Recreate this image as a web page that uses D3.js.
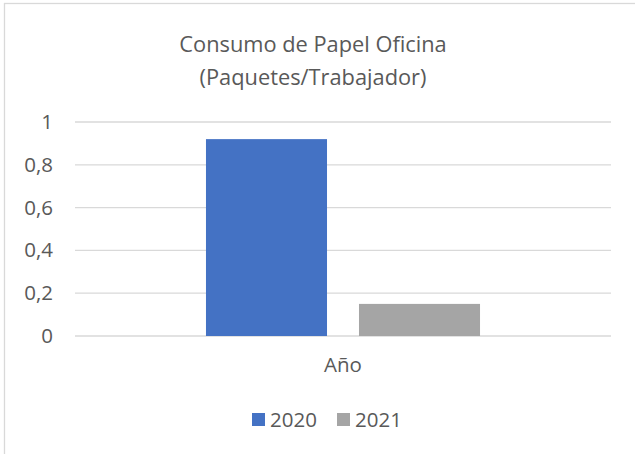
<!DOCTYPE html>
<html>
<head>
<meta charset="utf-8">
<script src="https://cdn.jsdelivr.net/npm/d3@7"></script>
<style>
  body { margin: 0; background: #fff; }
  svg { display: block; }
  text { font-family: "Open Sans", sans-serif; fill: #595959; }
</style>
</head>
<body>
<svg id="chart"></svg>
<script>
const categories = ["Año"];
const series = ["2020", "2021"];
const values = [0.92, 0.15];
const colors = ["#4472C4", "#A5A5A5"];
const yTicks = [0, 0.2, 0.4, 0.6, 0.8, 1];
const title = ["Consumo de Papel Oficina", "(Paquetes/Trabajador)"];

const width = 635, height = 454;
const margin = { top: 122, right: 24, bottom: 118, left: 75 };
const labelSize = "20.5px";

const svg = d3.select("#chart")
    .attr("width", width)
    .attr("height", height);

// chart area border (runs off the right and bottom edges)
svg.append("rect")
    .attr("x", 4.5).attr("y", 3.5)
    .attr("width", width + 10).attr("height", height + 10)
    .attr("fill", "none")
    .attr("stroke", "#d9d9d9")
    .attr("stroke-width", 1.3);

const locale = d3.formatLocale({ decimal: ",", thousands: ".", grouping: [3], currency: ["", "€"] });
const fmt = locale.format(".1~f");

const x0 = d3.scaleBand()
    .domain(categories)
    .range([margin.left, width - margin.right]);

const x1 = d3.scaleBand()
    .domain(series)
    .range([0, x0.bandwidth()])
    .paddingInner(0.209)
    .paddingOuter(0.856);

const y = d3.scaleLinear()
    .domain([0, 1])
    .range([height - margin.bottom, margin.top]);

// gridlines
svg.append("g")
    .selectAll("line")
    .data(yTicks)
    .join("line")
    .attr("x1", margin.left)
    .attr("x2", width - margin.right)
    .attr("y1", d => y(d))
    .attr("y2", d => y(d))
    .attr("stroke", "#d9d9d9")
    .attr("stroke-width", 1.3);

// y axis labels
const yAxis = svg.append("g")
    .attr("transform", `translate(${margin.left}, 0)`)
    .call(d3.axisLeft(y).tickValues(yTicks).tickFormat(fmt).tickSize(0).tickPadding(22));
yAxis.select(".domain").remove();
yAxis.selectAll("text")
    .style("font-family", "'Open Sans', sans-serif")
    .style("font-size", labelSize)
    .attr("fill", "#595959");

// bars
svg.append("g")
    .selectAll("g")
    .data(categories)
    .join("g")
    .attr("transform", d => `translate(${x0(d)}, 0)`)
    .selectAll("rect")
    .data(() => series.map((s, i) => ({ s, v: values[i], c: colors[i] })))
    .join("rect")
    .attr("x", d => x1(d.s))
    .attr("width", x1.bandwidth())
    .attr("y", d => y(d.v))
    .attr("height", d => y(0) - y(d.v))
    .attr("fill", d => d.c);

// x axis labels
const xAxis = svg.append("g")
    .attr("transform", `translate(0, ${y(0)})`)
    .call(d3.axisBottom(x0).tickSize(0).tickPadding(21));
xAxis.select(".domain").remove();
xAxis.selectAll("text")
    .style("font-family", "'Open Sans', sans-serif")
    .style("font-size", labelSize)
    .attr("fill", "#595959");

// title
svg.append("text")
    .attr("text-anchor", "middle")
    .attr("x", 313)
    .attr("y", 52)
    .style("font-size", "21.8px")
    .selectAll("tspan")
    .data(title)
    .join("tspan")
    .attr("x", 313)
    .attr("dy", (d, i) => i === 0 ? 0 : 33)
    .text(d => d);

// legend
const legendX = [252, 337];
const legend = svg.append("g")
    .selectAll("g")
    .data(series)
    .join("g")
    .attr("transform", (d, i) => `translate(${legendX[i]}, 413)`);
legend.append("rect")
    .attr("width", 13).attr("height", 13)
    .attr("fill", (d, i) => colors[i]);
legend.append("text")
    .attr("x", 18)
    .attr("y", 14)
    .style("font-size", labelSize)
    .text(d => d);
</script>
</body>
</html>
